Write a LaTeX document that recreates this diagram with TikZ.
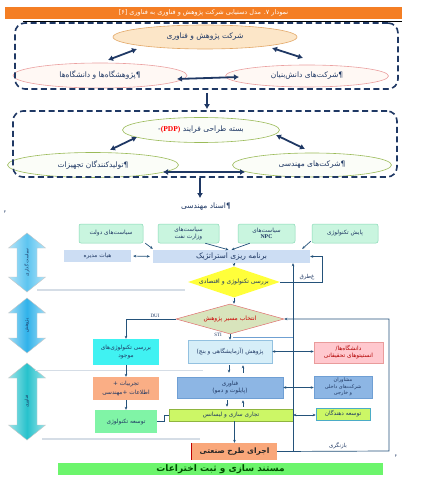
\documentclass[tikz,border=0pt]{standalone}
\usepackage{fontspec}
\setmainfont{Liberation Serif}
\newfontfamily\fafont[Script=Arabic]{DejaVu Sans}
\usetikzlibrary{arrows.meta,shapes.geometric,calc}
\TeXXeTstate=1
\newcommand{\FA}[1]{{\fafont\beginR #1\endR}}
\newcommand{\fsz}[1]{\fontsize{#1}{#1}\selectfont}
\definecolor{navy}{HTML}{1F3864}
\definecolor{titleor}{HTML}{F47E24}
\definecolor{ellonefill}{HTML}{FCE6C8}
\definecolor{ellonel}{HTML}{E3A868}
\definecolor{elltwol}{HTML}{EBA0A0}
\definecolor{elltwofill}{HTML}{FFF8F4}
\definecolor{ellthreel}{HTML}{9BBB59}
\definecolor{ellthreefill}{HTML}{FBFDF8}
\definecolor{mint}{HTML}{C9F5DF}
\definecolor{mintline}{HTML}{86D9B5}
\definecolor{pale}{HTML}{CCDDF3}
\definecolor{yel}{HTML}{FFFF3A}
\definecolor{olive}{HTML}{D8E4BC}
\definecolor{cyanb}{HTML}{40F2F2}
\definecolor{resfill}{HTML}{D6EEF8}
\definecolor{resline}{HTML}{93C1E0}
\definecolor{pinkf}{HTML}{FFC8CE}
\definecolor{pinkline}{HTML}{E07070}
\definecolor{salmon}{HTML}{FAAE85}
\definecolor{midblue}{HTML}{8DB6E4}
\definecolor{midline}{HTML}{6F9FD4}
\definecolor{greenb}{HTML}{80F4A6}
\definecolor{lime}{HTML}{CCF766}
\definecolor{limeline}{HTML}{8FB53F}
\definecolor{tealline}{HTML}{4BACC6}
\definecolor{implf}{HTML}{F9A77A}
\definecolor{barg}{HTML}{6CF56C}
\definecolor{flow}{HTML}{24527A}
\definecolor{stiblue}{HTML}{6FA0D2}
\definecolor{sepc}{HTML}{D5DDE6}
\definecolor{arrA}{HTML}{5CC4F0}
\definecolor{arrB}{HTML}{30B2EA}
\definecolor{arrC}{HTML}{27C2CC}
\tikzset{
  ellA/.style={ellipse, draw=ellonel, fill=ellonefill, line width=0.6pt, inner sep=0pt, text=navy, font=\fsz{7.5}},
  ellB/.style={ellA, draw=elltwol, fill=elltwofill},
  ellC/.style={ellA, draw=ellthreel, fill=ellthreefill},
  dbox/.style={draw=navy, dash pattern=on 6pt off 3.5pt, line width=1.6pt, rounded corners=10pt, inner sep=0pt},
  dbl/.style={{Latex[length=5pt,width=6pt]}-{Latex[length=5pt,width=6pt]}, draw=navy, line width=1.8pt},
  dnarr/.style={-{Latex[length=5pt,width=6pt]}, draw=navy, line width=1.8pt},
  fbox/.style={rectangle, inner sep=1pt, align=center, text=navy, font=\fsz{5.8}},
  pol/.style={fbox, rounded corners=2pt, draw=mintline, fill=mint, line width=0.5pt, minimum height=19pt},
  fl/.style={draw=flow, line width=0.7pt},
  fla/.style={fl, -{Stealth[length=3pt,width=2.6pt]}},
  flb/.style={fl, {Stealth[length=3pt,width=2.6pt]}-{Stealth[length=3pt,width=2.6pt]}},
  sepline/.style={draw=sepc, line width=1.2pt},
  bigarr/.style={draw=gray!45, line width=0.4pt},
}
\begin{document}
\begin{tikzpicture}[x=1pt,y=-1pt]
\useasboundingbox (0,0) rectangle (435,494);
\fill[white] (0,0) rectangle (435,494);

% title
\node[fill=titleor, minimum width=397pt, minimum height=12pt, inner sep=0pt, text=white, font=\fsz{6.5}] (title) at (203.5,13) {\FA{نمودار ۷. مدل دستیابی شرکت پژوهش و فناوری به فناوری [۶]}};
\coordinate (rl) at (23,21);
\coordinate (rr) at (402,21);
\draw[line width=0.6pt] (rl) -- (rr);

% first group
\node[ellA, minimum width=184pt, minimum height=24pt] (e1) at (205,37) {\FA{شرکت پژوهش و فناوری}};
\node[ellB, minimum width=174pt, minimum height=25pt] (e2) at (100,75.5) {\FA{¶پژوهشگاه‌ها و دانشگاه‌ها}};
\node[ellB, minimum width=163pt, minimum height=22pt] (e3) at (307,76) {\FA{¶شرکت‌های دانش‌بنیان}};
\node[dbox, minimum width=383pt, minimum height=66pt] (box1) at (206.5,56) {};
\draw[dbl] ($(e1.center)+(-68,12)$) -- ($(e2.center)+(8,-15.5)$);
\draw[dbl] ($(e1.center)+(67,11)$) -- ($(e3.center)+(-4,-18)$);
\draw[dbl] ($(e2.center)+(77,3.5)$) -- ($(e3.center)+(-68,1)$);

% second group
\node[ellC, minimum width=157pt, minimum height=25pt] (f1) at (201,130) {\FA{بسته طراحی فرایند \beginL-{\rmfamily\bfseries\color{red}(PDP)}\endL}};
\node[ellC, minimum width=171pt, minimum height=25pt] (f2) at (93,165) {\FA{¶تولیدکنندگان تجهیزات}};
\node[ellC, minimum width=159pt, minimum height=24pt] (f3) at (312,165) {\FA{¶شرکت‌های مهندسی}};
\node[dbox, minimum width=384pt, minimum height=66pt] (box2) at (205,144) {};
\draw[dnarr] ($(box1.south)+(0.5,3)$) -- ($(box2.north)+(2,-1)$);
\draw[dbl] ($(f1.center)+(-64,7)$) -- ($(f2.center)+(17,-15)$);
\draw[dbl] ($(f1.center)+(75,5)$) -- ($(f3.center)+(-7,-16)$);
\draw[dbl] ($(f2.center)+(70,7)$) -- ($(f3.center)+(-67,7)$);

\node[font=\fsz{7.5}, text=navy, inner sep=1pt] (docs) at (206,207) {\FA{¶اسناد مهندسی}};
\draw[dnarr] ($(box2.south)+(-5,0)$) -- ($(docs.north)+(-6,-4)$);

% small page marks
\node[font=\fsz{4}, text=navy, inner sep=0pt] (mkA) at (5,212) {\FA{۳}};
\node[font=\fsz{4}, text=navy, inner sep=0pt] (mkB) at (396,456) {\FA{۴}};

% big side arrows
\foreach \ya/\yb/\col/\txt in {233/292/arrA/سیاست گذاری,298/353/arrB/پژوهش,363/440/arrC/فناوری}{
  \shadedraw[bigarr, left color=\col!45!white, right color=\col!45!white, middle color=\col]
    (27,\ya) -- (45.5,\ya+15) -- (37,\ya+15) -- (37,\yb-15) -- (45.5,\yb-15) -- (27,\yb)
    -- (8.5,\yb-15) -- (17,\yb-15) -- (17,\ya+15) -- (8.5,\ya+15) -- cycle;
  \node[rotate=90, font=\fsz{4.5}, text=navy, inner sep=0pt] at (27,{(\ya+\yb)/2}) {\FA{\txt}};
}
\draw[sepline] (37,290) -- (185,290);
\draw[sepline] (35,370.5) -- (203,370.5);
\draw[sepline] (42,439) -- (200,439);

% policy row
\node[pol, minimum width=64pt] (p1) at (111,233.5) {\FA{سیاست‌های دولت}};
\node[pol, minimum width=61pt] (p2) at (188.5,233.5) {\FA{سیاست‌های}\\[0.5pt]\FA{وزارت نفت}};
\node[pol, minimum width=57pt] (p3) at (266.5,233.5) {\FA{سیاست‌های}\\[0.5pt]{\bfseries NPC}};
\node[pol, minimum width=66pt] (p4) at (345,233.5) {\FA{پایش تکنولوژی}};

\node[fbox, fill=pale, minimum width=67pt, minimum height=12pt] (board) at (97.5,256) {\FA{هیات مدیره}};
\node[fbox, fill=pale, minimum width=157pt, minimum height=13pt, font=\fsz{7.5}] (strat) at (231.5,256.5) {\FA{برنامه ریزی استراتژیک}};

\node[diamond, fill=yel, minimum width=92pt, minimum height=31pt, inner sep=0pt, text=navy, font=\fsz{6}] (d1) at (234,282) {\makebox[0pt]{\FA{بررسی تکنولوژی و اقتصادی}}};
\node[diamond, fill=olive, draw=pinkline, line width=0.5pt, minimum width=108pt, minimum height=30pt, inner sep=0pt, text=red!80!black, font=\fsz{6}] (d2) at (230,319) {\makebox[0pt]{\FA{انتخاب مسیر پژوهش}}};

\node[fbox, fill=cyanb, minimum width=66pt, minimum height=26pt] (ex) at (126,352) {\FA{بررسی تکنولوژی‌های}\\[1.5pt]\FA{موجود}};
\node[fbox, fill=resfill, draw=resline, line width=0.5pt, minimum width=84pt, minimum height=23pt] (res) at (230,351.5) {\FA{پژوهش (آزمایشگاهی و بنچ)}};
\node[fbox, fill=pinkf, draw=pinkline!70, line width=0.5pt, text=red!70!black, minimum width=69pt, minimum height=21pt] (uni) at (348.5,352.5) {\FA{دانشگاه‌ها/}\\[1pt]\FA{انستیتوهای تحقیقاتی}};
\node[fbox, fill=midblue, draw=midline, line width=0.5pt, minimum width=106pt, minimum height=21pt] (tech) at (230,387.5) {\FA{فناوری}\\[1pt]\FA{(پایلوت و دمو)}};
\node[fbox, fill=midblue, draw=midline, line width=0.5pt, minimum width=58pt, minimum height=22pt, font=\fsz{5}] (cons) at (343,387) {\FA{مشاوران}\\[0.5pt]\FA{شرکت‌های داخلی}\\[0.5pt]\FA{و خارجی}};
\node[fbox, fill=salmon, minimum width=66pt, minimum height=23pt] (exp) at (126,388.5) {\FA{تجربیات +}\\[1.5pt]\FA{اطلاعات +مهندسی}};
\node[fbox, fill=lime, draw=limeline, line width=0.5pt, minimum width=124pt, minimum height=12pt] (comm) at (231,415) {\FA{تجاری سازی و لیسانس}};
\node[fbox, fill=lime, draw=tealline, line width=0.5pt, minimum width=54pt, minimum height=12pt] (devs) at (343,414) {\FA{توسعه دهندگان}};
\node[fbox, fill=greenb, minimum width=62pt, minimum height=23pt] (dev) at (126,421.5) {\FA{توسعه تکنولوژی}};
\node[fbox, fill=implf, minimum width=85pt, minimum height=17pt, font=\bfseries\fsz{7.5}, text=black!85] (impl) at (234.5,451.5) {\FA{اجرای طرح صنعتی}};
\draw[red!75!black, line width=0.8pt] (impl.north west) -- (impl.south west);
\node[fbox, fill=barg, minimum width=325pt, minimum height=12pt, font=\bfseries\fsz{9}, text=black!70!green] (bar) at (220.5,469) {\FA{مستند سازی و ثبت اختراعات}};

% connectors
\draw[fla] ($(p1.south east)+(2,0)$) -- ($(strat.north west)+(0,-1)$);
\draw[fla] ($(p2.south east)+(-14,0)$) -- ($(strat.north)+(-3,0)$);
\draw[fla] ($(p3.south west)+(12,0)$) -- (strat.north);
\draw[fla] ($(p4.south west)+(-1,-2)$) -- ($(strat.north east)+(-8,-1)$);
\draw[flb, shorten <=2pt, shorten >=3pt] (board.east) -- (strat.west);
\draw[fla] (strat.south -| d1.north) -- (d1.north);
\draw[fla] (d1.south) -- (d1.south |- d2.north);
\draw[fla] (d1.east) -- ++(42,0) |- (strat.east);
\node[font=\fsz{5.5}, text=navy, inner sep=0pt] (fail) at (307,277.5) {\FA{غ‌طرق}};

\draw[fla] (d2.west) -| (ex.north);
\node[font=\fsz{5}, text=navy, inner sep=0pt] (dui) at (155,315.5) {DUI};
\draw[fla] (d2.south) -- (d2.south |- res.north);
\node[font=\fsz{5}, text=navy, inner sep=0pt] (sti) at (218,335) {STI};

\coordinate (vb) at (293,451);
\coordinate (rc) at (389,451);
\draw[fla] (impl.east) -- (rc) |- (d2.east);
\draw[fla] (vb) -- (vb |- strat.south);
\coordinate (stic) at ($(d2.south)+(3,3)$);
\draw[draw=stiblue, line width=1pt] (stic) -- (stic -| vb);
\node[font=\fsz{5.5}, text=navy, inner sep=0pt] (rev) at (338,446) {\FA{بازنگری}};

\draw[flb] (res.east) -- (res.east -| uni.west);
\draw[flb] (tech.east) -- (tech.east -| cons.west);
\draw[flb] (comm.east) -- (comm.east -| devs.west);

\draw[fla] ($(res.south)+(-1,2)$) -- ($(tech.north)+(-1,-4)$);
\draw[fla] ($(tech.north)+(13,-4)$) -- ($(res.south)+(13,2)$);
\draw[fla] ($(tech.south)+(-3,2)$) -- ($(comm.north)+(-4,-2)$);
\draw[fla] ($(comm.north)+(12,-2)$) -- ($(tech.south)+(13,2)$);

\draw[fla] (ex.south) -- (exp.north);
\draw[fla] (exp.south) -- (dev.north);
\draw[fl] (dev.east) -- ++(7,0) |- (comm.west);
\draw[fla] (impl.north |- comm.south) -- (impl.north);
\end{tikzpicture}
\end{document}
